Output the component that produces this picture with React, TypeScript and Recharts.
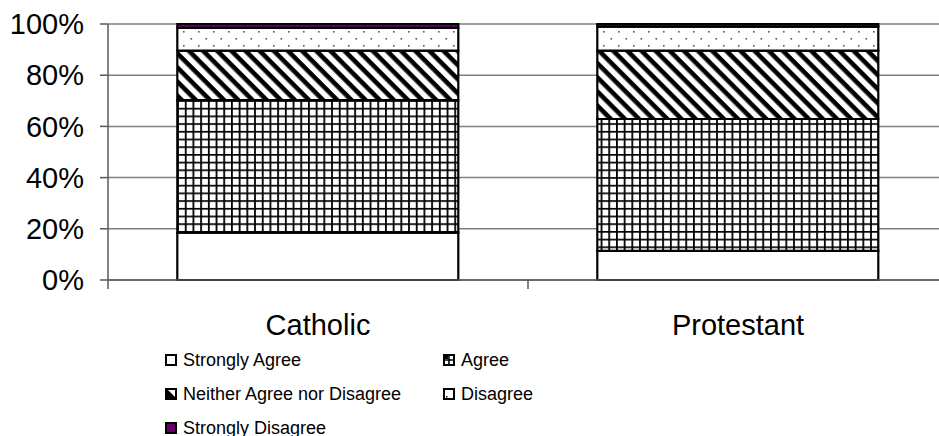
import { BarChart, Bar, XAxis, YAxis, CartesianGrid } from 'recharts';

const categories = ['Catholic', 'Protestant'];
const stronglyAgree = [18.5, 11.4];
const agree = [51.8, 51.5];
const neither = [19.3, 26.7];
const disagree = [8.9, 9.4];
const stronglyDisagree = [1.5, 1.0];
const yTicks = [0, 20, 40, 60, 80, 100];

const FONT = '"Liberation Sans", Arial, sans-serif';

const series = [
  { key: 'sa', name: 'Strongly Agree', values: stronglyAgree, fill: '#ffffff' },
  { key: 'a', name: 'Agree', values: agree, fill: 'url(#pGrid)' },
  { key: 'n', name: 'Neither Agree nor Disagree', values: neither, fill: 'url(#pDiag)' },
  { key: 'd', name: 'Disagree', values: disagree, fill: 'url(#pDots)' },
  { key: 'sd', name: 'Strongly Disagree', values: stronglyDisagree, fill: '#660066' },
];

const data = categories.map((name, i) => {
  const row: Record<string, string | number> = { name };
  series.forEach((s) => {
    row[s.key] = s.values[i];
  });
  return row;
});

// eslint-disable-next-line @typescript-eslint/no-explicit-any
function CategoryTick(props: any) {
  const { x, y, payload, index } = props;
  const half = payload?.offset ?? 0;
  return (
    <g>
      {index === 0 && (
        <line x1={x - half} x2={x - half} y1={y - 9} y2={y} stroke="#595959" strokeWidth={1.5} />
      )}
      <line x1={x + half} x2={x + half} y1={y - 9} y2={y} stroke="#595959" strokeWidth={1.5} />
      <text x={x} y={y} dy={46} textAnchor="middle" fill="#000" fontSize={29} fontFamily={FONT}>
        {payload.value}
      </text>
    </g>
  );
}

// small swatches, drawn by hand since the bar patterns are too coarse at 10px
function LegendIcon({ k, fill }: { k: string; fill: string }) {
  return (
    <svg width={12} height={12} style={{ display: 'block', flexShrink: 0 }}>
      {k === 'n' ? (
        <>
          <rect x={1} y={1} width={10} height={10} fill="#000" stroke="#000" strokeWidth={2} />
          <polygon points="3,2 10,2 10,9" fill="#fff" />
        </>
      ) : k === 'a' ? (
        <>
          <rect x={1} y={1} width={10} height={10} fill="#fff" stroke="#000" strokeWidth={2} />
          <path d="M2 6H10M6 2V10" stroke="#000" strokeWidth={1.6} />
          <rect x={2} y={2} width={3} height={3} fill="#000" />
        </>
      ) : k === 'd' ? (
        <>
          <rect x={1} y={1} width={10} height={10} fill="#fff" stroke="#000" strokeWidth={2} />
          <rect x={3} y={8} width={1.5} height={1.5} fill="#000" />
        </>
      ) : (
        <rect x={1} y={1} width={10} height={10} fill={fill} stroke="#000" strokeWidth={2} />
      )}
    </svg>
  );
}

export default function App() {
  return (
    <div
      style={{
        position: 'absolute',
        left: 0,
        top: 0,
        width: 939,
        height: 436,
        overflow: 'hidden',
        background: '#fff',
        fontFamily: FONT,
      }}
    >
      <BarChart
        width={960}
        height={436}
        data={data}
        margin={{ top: 24, right: 12, left: 0, bottom: 0 }}
        barCategoryGap="16.5%"
      >
        <defs>
          <pattern id="pGrid" width={7.7} height={7.7} patternUnits="userSpaceOnUse">
            <rect width={7.7} height={7.7} fill="#fff" />
            <path d="M0 0.9H7.7M0.9 0V7.7" stroke="#000" strokeWidth={1.8} />
          </pattern>
          <pattern
            id="pDiag"
            width={10}
            height={10}
            patternUnits="userSpaceOnUse"
            patternTransform="rotate(45)"
          >
            <rect width={10} height={10} fill="#fff" />
            <rect x={0} y={0} width={10} height={4.6} fill="#000" />
          </pattern>
          <pattern id="pDots" width={15} height={14} patternUnits="userSpaceOnUse">
            <rect width={15} height={14} fill="#fff" />
            <rect x={3} y={3} width={1.6} height={1.6} fill="#555" />
            <rect x={10.5} y={10} width={1.6} height={1.6} fill="#555" />
          </pattern>
        </defs>
        <CartesianGrid vertical={false} stroke="#808080" strokeWidth={1.5} />
        <XAxis
          dataKey="name"
          height={156}
          tickSize={9}
          tickMargin={0}
          tickLine={false}
          stroke="#595959"
          strokeWidth={1.5}
          interval={0}
          tick={<CategoryTick />}
        />
        <YAxis
          width={108}
          domain={[0, 100]}
          ticks={yTicks}
          interval={0}
          tickFormatter={(v: number) => `${v}%`}
          tickSize={8}
          tickMargin={16}
          stroke="#595959"
          strokeWidth={1.5}
          tick={{ fill: '#000', fontSize: 29, fontFamily: FONT }}
        />
        {series.map((s) => (
          <Bar
            key={s.key}
            dataKey={s.key}
            name={s.name}
            stackId="all"
            fill={s.fill}
            stroke="#000"
            strokeWidth={2.2}
            isAnimationActive={false}
          />
        ))}
      </BarChart>

      <div
        style={{
          position: 'absolute',
          left: 165,
          top: 343,
          display: 'grid',
          gridTemplateColumns: '278px auto',
          gridAutoRows: '34px',
          fontSize: 18,
          color: '#000',
        }}
      >
        {series.map((s) => (
          <div key={s.key} style={{ display: 'flex', alignItems: 'center', gap: 6, whiteSpace: 'nowrap' }}>
            <LegendIcon k={s.key} fill={s.fill} />
            <span>{s.name}</span>
          </div>
        ))}
      </div>
    </div>
  );
}
